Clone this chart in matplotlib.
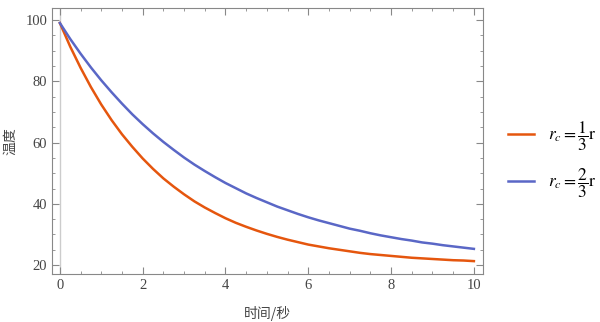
import matplotlib
matplotlib.use("Agg")
import matplotlib.pyplot as plt
from matplotlib.ticker import MultipleLocator

plt.rcParams['mathtext.fontset'] = 'stix'

t = [0, 0.25, 0.5, 0.75, 1, 1.25, 1.5, 1.75, 2, 2.25, 2.5, 2.75, 3, 3.25, 3.5, 3.75, 4,
     4.25, 4.5, 4.75, 5, 5.25, 5.5, 5.75, 6, 6.25, 6.5, 6.75, 7, 7.25, 7.5, 7.75, 8,
     8.25, 8.5, 8.75, 9, 9.25, 9.5, 9.75, 10]
temp_third = [99, 91.3, 84.4, 78.1, 72.4, 67.3, 62.7, 58.6, 54.8, 51.4, 48.3, 45.6, 43.1,
              40.8, 38.8, 37.0, 35.3, 33.8, 32.5, 31.3, 30.2, 29.2, 28.3, 27.5, 26.7,
              26.1, 25.5, 25.0, 24.5, 24.0, 23.6, 23.3, 23.0, 22.7, 22.4, 22.2, 22.0,
              21.8, 21.6, 21.5, 21.3]
temp_two_thirds = [99, 93.8, 89.0, 84.5, 80.3, 76.4, 72.7, 69.2, 66.0, 63.0, 60.2, 57.6,
                   55.1, 52.8, 50.7, 48.7, 46.8, 45.1, 43.4, 41.9, 40.5, 39.1, 37.9, 36.7,
                   35.6, 34.6, 33.7, 32.8, 31.9, 31.2, 30.4, 29.7, 29.1, 28.5, 28.0, 27.4,
                   27.0, 26.5, 26.1, 25.7, 25.3]
labels = [r'$r_c{=}\dfrac{1}{3}\mathrm{r}$', r'$r_c{=}\dfrac{2}{3}\mathrm{r}$']
xlabel = '时间/秒'
ylabel = '温度'

fig = plt.figure(figsize=(6, 3.22), dpi=100)
ax = fig.add_axes([52/600, 1-274/322, (483-52)/600, (274-8)/322])

ax.axvline(0, color='#cccccc', lw=1.0, zorder=1)
l1, = ax.plot(t, temp_third, color='#E5560E', lw=1.8, zorder=3, solid_joinstyle='round')
l2, = ax.plot(t, temp_two_thirds, color='#5A67C6', lw=1.8, zorder=3, solid_joinstyle='round')

ax.set_xlim(-0.19, 10.22)
ax.set_ylim(17.1, 103.9)
ax.xaxis.set_major_locator(MultipleLocator(2))
ax.xaxis.set_minor_locator(MultipleLocator(0.5))
ax.yaxis.set_major_locator(MultipleLocator(20))
ax.yaxis.set_minor_locator(MultipleLocator(5))
ax.tick_params(which='both', direction='in', top=True, right=True, color='#888888',
               labelcolor='#444444', labelsize=10.5)
ax.tick_params(which='major', length=5, width=0.8)
ax.tick_params(which='minor', length=2.5, width=0.6)
for lab in ax.get_xticklabels() + ax.get_yticklabels():
    lab.set_fontfamily('Liberation Serif')
for s in ax.spines.values():
    s.set_color('#888888')
    s.set_linewidth(0.8)

ax.set_xlabel(xlabel, fontfamily=['Noto Sans CJK SC', 'DejaVu Sans'], fontsize=10, color='#444444', labelpad=10)
ax.set_ylabel(ylabel, fontfamily=['Noto Sans CJK SC', 'DejaVu Sans'], fontsize=10, color='#444444', labelpad=6)

leg = fig.legend([l1, l2], labels, loc='center left', bbox_to_anchor=(508/600, 1-160/322),
                 frameon=False, fontsize=12.5, handlelength=1.5, labelspacing=0.8,
                 handletextpad=0.8, borderaxespad=0, borderpad=0)

fig.savefig('out.png', dpi=100)
